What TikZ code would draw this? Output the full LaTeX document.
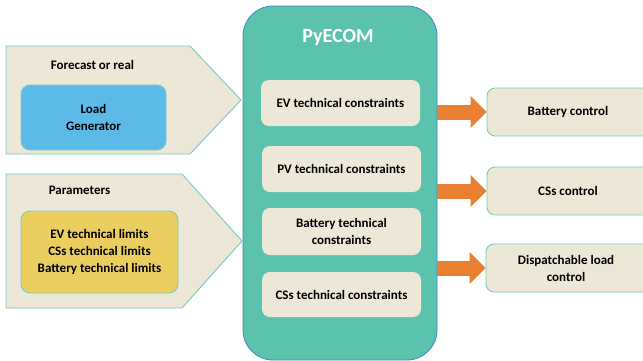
\documentclass[tikz,border=0pt]{standalone}
\usepackage{fontspec}
\setmainfont{Carlito}
\usetikzlibrary{arrows.meta}
\definecolor{sand}{RGB}{236,231,215}
\definecolor{tealline}{RGB}{118,204,188}
\definecolor{jade}{RGB}{90,194,173}
\definecolor{jadeline}{RGB}{66,134,196}
\definecolor{skyblue}{RGB}{91,186,231}
\definecolor{mustard}{RGB}{234,206,95}
\definecolor{carrot}{RGB}{233,128,49}
\newcommand{\boxfont}{\fontsize{13}{17}\selectfont\bfseries}
\tikzstyle{caption} = [font=\boxfont, align=center]
\tikzstyle{inshape} = [fill=sand, draw=tealline, line width=0.9pt]
\tikzstyle{databox} = [draw=tealline, line width=0.9pt, rounded corners=9pt,
align=center, font=\boxfont]
\tikzstyle{conbox} = [fill=sand, rounded corners=8pt, minimum width=159pt,
align=center, font=\boxfont]
\tikzstyle{ctrlbox} = [fill=sand, draw=tealline, line width=0.9pt,
rounded corners=8pt, minimum width=168pt, minimum height=48pt]
\tikzstyle{bigarrow} = [draw=carrot, line width=15pt,
-{Triangle[length=16pt,width=31pt]}]

\begin{document}
\begin{tikzpicture}[x=1pt, y=-1pt]
\useasboundingbox (0,0) rectangle (643,360);
% input side
\draw[inshape] (6,46) -- (190,46) -- (241,100) -- (190,154) -- (6,154) -- cycle;
\draw[inshape] (6,174) -- (182,174) -- (242,241) -- (182,308) -- (6,308) -- cycle;
\node[caption] (fcast) at (92.5,65) {Forecast or real};
\node[databox, fill=skyblue, minimum width=145pt, minimum height=65pt]
    (load) at (93.5,117.5) {Load\\Generator};
\node[caption] (param) at (79.5,190) {Parameters};
\node[databox, fill=mustard, minimum width=157pt, minimum height=82pt]
    (limits) at (99.5,252) {EV technical limits\\CSs technical limits\\Battery technical limits};

% the model
\node[fill=jade, draw=jadeline, line width=0.8pt, rounded corners=30pt,
    minimum width=194pt, minimum height=354pt] (pyecom) at (340,183) {};
\node[text=white, font=\fontsize{20}{24}\selectfont\bfseries] (title) at (338,38) {PyECOM};
\node[conbox, minimum height=46pt] (evc) at (340.5,103) {EV technical constraints};
\node[conbox, minimum height=46pt] (pvc) at (341.5,169) {PV technical constraints};
\node[conbox, minimum height=47pt] (batc) at (341.5,231.5) {Battery technical\\constraints};
\node[conbox, minimum height=45pt] (csc) at (341.5,294.5) {CSs technical constraints};

% outputs
\node[ctrlbox] (batctrl) at (571,112) {};
\node[caption] at (568,112) {Battery control};
\node[ctrlbox] (csctrl) at (571,191) {};
\node[caption] at (568,191) {CSs control};
\node[ctrlbox] (loadctrl) at (570,268) {};
\node[caption] at (566,268) {Dispatchable load\\control};

\draw[bigarrow] (pyecom.east |- batctrl.west) -- (batctrl.west);
\draw[bigarrow] (pyecom.east |- csctrl.west) -- (csctrl.west);
\draw[bigarrow] (pyecom.east |- loadctrl.west) -- (loadctrl.west);
\end{tikzpicture}
\end{document}
